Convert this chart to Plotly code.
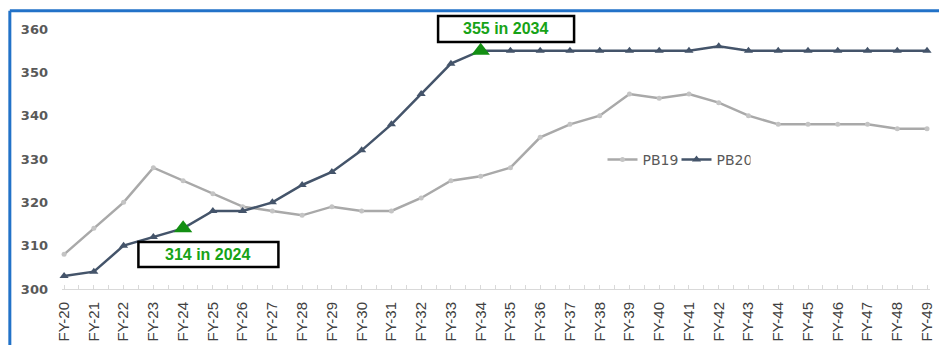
import plotly.graph_objects as go

# Fiscal years on the category axis
years = ["FY-20", "FY-21", "FY-22", "FY-23", "FY-24", "FY-25", "FY-26", "FY-27", "FY-28", "FY-29",
         "FY-30", "FY-31", "FY-32", "FY-33", "FY-34", "FY-35", "FY-36", "FY-37", "FY-38", "FY-39",
         "FY-40", "FY-41", "FY-42", "FY-43", "FY-44", "FY-45", "FY-46", "FY-47", "FY-48", "FY-49"]

pb19 = [308, 314, 320, 328, 325, 322, 319, 318, 317, 319,
        318, 318, 321, 325, 326, 328, 335, 338, 340, 345,
        344, 345, 343, 340, 338, 338, 338, 338, 337, 337]

pb20 = [303, 304, 310, 312, 314, 318, 318, 320, 324, 327,
        332, 338, 345, 352, 355, 355, 355, 355, 355, 355,
        355, 355, 356, 355, 355, 355, 355, 355, 355, 355]

# Highlighted milestones: (year label, annotation text)
highlights = [("FY-24", "314 in 2024"), ("FY-34", "355 in 2034")]

y_ticks = [300, 310, 320, 330, 340, 350, 360]

idx = list(range(len(years)))
hl_idx = [years.index(h[0]) for h in highlights]
hl_val = [pb20[i] for i in hl_idx]

fig = go.Figure()
fig.add_trace(go.Scatter(
    x=idx, y=pb19, name="PB19", mode="lines+markers",
    line=dict(color="#a9a9a9", width=2.5),
    marker=dict(symbol="circle", size=5, color="#c4c4c4"),
    cliponaxis=False,
))
fig.add_trace(go.Scatter(
    x=idx, y=pb20, name="PB20", mode="lines+markers",
    line=dict(color="#44546a", width=2.5),
    marker=dict(symbol="triangle-up", size=8, color="#44546a"),
    cliponaxis=False,
))
fig.add_trace(go.Scatter(
    x=hl_idx, y=hl_val, mode="markers", showlegend=False,
    marker=dict(symbol="triangle-up", size=16, color="#138f13"),
    cliponaxis=False,
))

# Callout boxes anchored to each highlighted point, offsets in pixels
# (box left, right, bottom, top relative to the point; text shift)
callouts = [
    dict(box=(-44.7, 95.3, -38.7, -13.7), shift=(25.3, -26.2)),
    dict(box=(-42.6, 93.4, 8.7, 34.7), shift=(25.4, 21.7)),
]
for (i, v), (label, text), c in zip(zip(hl_idx, hl_val), highlights, callouts):
    x0, x1, y0, y1 = c["box"]
    fig.add_shape(
        type="rect", xref="x", yref="y", xsizemode="pixel", ysizemode="pixel",
        xanchor=i, yanchor=v, x0=x0, x1=x1, y0=y0, y1=y1,
        line=dict(color="black", width=2.5), fillcolor="white", layer="above",
    )
    fig.add_annotation(
        x=i, y=v, xref="x", yref="y", text="<b>%s</b>" % text, showarrow=False,
        xshift=c["shift"][0], yshift=c["shift"][1],
        font=dict(family="Liberation Sans, Arial, sans-serif", size=16, color="#17a317"),
    )

# Blue frame along the top and left edges
frame = "#2272c8"
fig.add_shape(type="line", xref="paper", yref="paper", x0=-0.0601, x1=1.02, y0=1.0047, y1=1.0047,
              line=dict(color=frame, width=3))
fig.add_shape(type="line", xref="paper", yref="paper", x0=-0.0601, x1=-0.0601, y0=1.0047, y1=-0.25,
              line=dict(color=frame, width=3))

fig.update_layout(
    width=939, height=345,
    margin=dict(l=62, r=4, t=12, b=56),
    paper_bgcolor="white", plot_bgcolor="white",
    showlegend=True,
    legend=dict(
        orientation="h", x=0.6227, y=0.4657, xanchor="left", yanchor="middle",
        font=dict(family="DejaVu Sans, Verdana, sans-serif", size=14, color="#595959"),
        bgcolor="rgba(0,0,0,0)", itemwidth=30, entrywidth=29, entrywidthmode="pixels",
    ),
    xaxis=dict(
        range=[-0.07, 29.1], tickmode="array", tickvals=idx, ticktext=years,
        tickangle=-90, showgrid=False, zeroline=False,
        showline=True, linecolor="#d9d9d9", linewidth=1,
        ticks="inside", ticklen=4, tickcolor="#d9d9d9", tickwidth=1,
        minor=dict(dtick=0.5, tick0=0, ticks="inside", ticklen=4, tickcolor="#d9d9d9", showgrid=False),
        tickfont=dict(family="Liberation Sans Narrow, Arial Narrow, Liberation Sans, sans-serif",
                      size=15, color="#404040"),
        ticklabelstandoff=6, ticklabeloverflow="allow",
    ),
    yaxis=dict(
        range=[300, 363.92], tickmode="array", tickvals=y_ticks,
        showgrid=False, zeroline=False, showline=False, ticks="",
        tickfont=dict(family="DejaVu Sans, Verdana, sans-serif", size=13, color="#595959", weight="bold"),
        ticklabelstandoff=13,
    ),
)

fig.write_html("out.html")
